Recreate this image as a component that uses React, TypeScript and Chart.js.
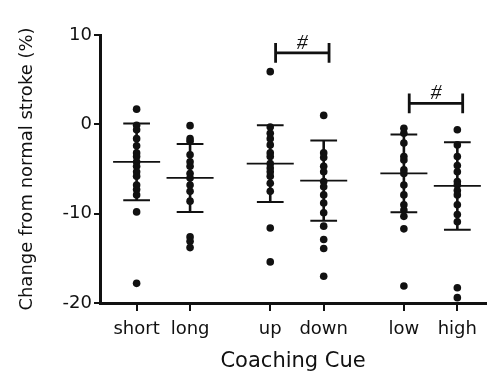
import React, { useEffect, useRef } from 'react';
import { Chart, registerables } from 'chart.js';

Chart.register(...registerables);

// ---- data ----
const CATEGORIES = ['short', 'long', 'up', 'down', 'low', 'high'];
const POSITIONS = [1, 2, 3.5, 4.5, 6, 7];

const SHORT = [1.7, -0.1, -0.6, -1.6, -2.4, -3.2, -3.6, -4.2, -4.7, -5.3, -5.8, -6.8, -7.3, -7.9, -9.8, -17.8];
const LONG = [-0.15, -1.6, -1.9, -3.4, -4.2, -4.7, -5.5, -6.0, -6.8, -7.5, -8.6, -12.6, -13.1, -13.8];
const UP = [5.9, -0.3, -1.0, -1.6, -2.3, -3.2, -3.6, -4.4, -4.9, -5.3, -5.8, -6.6, -7.5, -11.6, -15.4];
const DOWN = [1.0, -3.2, -3.7, -4.7, -5.3, -6.4, -7.0, -7.9, -8.8, -9.9, -11.4, -12.9, -13.9, -17.0];
const LOW = [-0.45, -1.0, -2.1, -3.6, -4.0, -5.1, -5.5, -6.8, -7.9, -9.0, -9.6, -10.3, -11.7, -18.1];
const HIGH = [-0.6, -2.3, -3.6, -4.6, -5.3, -6.4, -6.8, -7.4, -7.9, -9.0, -10.1, -10.9, -18.3, -19.4];
const SERIES = [SHORT, LONG, UP, DOWN, LOW, HIGH];

const MEANS = [-4.2, -6.0, -4.4, -6.3, -5.5, -6.9];
const SDS = [4.3, 3.8, 4.3, 4.5, 4.35, 4.9];

const Y_TICKS = [-20, -10, 0, 10];

const BRACKET_FROM = [2, 4]; // category index
const BRACKET_TO = [3, 5];
const BRACKET_Y = [8.0, 2.35];
const BRACKET_LABELS = ['#', '#'];

const TEXT = '#111';
const FONT = "'DejaVu Sans', 'Liberation Sans', Arial, sans-serif";

const errorBarPlugin = {
  id: 'errorBars',
  afterDatasetsDraw(chart: any) {
    const { ctx } = chart;
    const x = chart.scales.x;
    const y = chart.scales.y;
    ctx.save();
    ctx.strokeStyle = '#111';
    ctx.lineCap = 'butt';
    POSITIONS.forEach((p, i) => {
      const cx = x.getPixelForValue(p);
      const m = y.getPixelForValue(MEANS[i]);
      const top = y.getPixelForValue(MEANS[i] + SDS[i]);
      const bot = y.getPixelForValue(MEANS[i] - SDS[i]);
      const halfMean = x.getPixelForValue(p + 0.44) - cx;
      const halfCap = x.getPixelForValue(p + 0.25) - cx;
      ctx.lineWidth = 2.6;
      ctx.beginPath();
      ctx.moveTo(cx, top);
      ctx.lineTo(cx, bot);
      ctx.stroke();
      ctx.lineWidth = 2;
      ctx.beginPath();
      ctx.moveTo(cx - halfCap, top);
      ctx.lineTo(cx + halfCap, top);
      ctx.moveTo(cx - halfCap, bot);
      ctx.lineTo(cx + halfCap, bot);
      ctx.stroke();
      ctx.lineWidth = 1.8;
      ctx.beginPath();
      ctx.moveTo(cx - halfMean, m);
      ctx.lineTo(cx + halfMean, m);
      ctx.stroke();
    });
    // significance brackets
    BRACKET_FROM.forEach((fromIdx, i) => {
      const x1 = x.getPixelForValue(POSITIONS[fromIdx] + 0.1);
      const x2 = x.getPixelForValue(POSITIONS[BRACKET_TO[i]] + 0.1);
      const by = y.getPixelForValue(BRACKET_Y[i]);
      const e1 = y.getPixelForValue(BRACKET_Y[i] + 1.1);
      const e2 = y.getPixelForValue(BRACKET_Y[i] - 1.1);
      ctx.lineWidth = 2.8;
      ctx.beginPath();
      ctx.moveTo(x1, by);
      ctx.lineTo(x2, by);
      ctx.moveTo(x1, e1);
      ctx.lineTo(x1, e2);
      ctx.moveTo(x2, e1);
      ctx.lineTo(x2, e2);
      ctx.stroke();
      ctx.fillStyle = TEXT;
      ctx.font = "italic 22px 'Liberation Serif', serif";
      ctx.textAlign = 'center';
      ctx.textBaseline = 'alphabetic';
      ctx.fillText(BRACKET_LABELS[i], (x1 + x2) / 2, by - 4);
    });
    ctx.restore();
  },
};

export default function App() {
  const canvasRef = useRef<HTMLCanvasElement | null>(null);

  useEffect(() => {
    const canvas = canvasRef.current;
    if (!canvas) return;
    const datasets = SERIES.map((vals, i) => ({
      label: CATEGORIES[i],
      data: vals.map((v) => ({ x: POSITIONS[i], y: v })),
      backgroundColor: '#111',
      borderColor: '#111',
      borderWidth: 0,
      pointRadius: 3.8,
      pointHoverRadius: 3.8,
    }));
    const chart = new Chart(canvas, {
      type: 'scatter',
      data: { datasets },
      options: {
        animation: false,
        responsive: false,
        maintainAspectRatio: false,
        events: [],
        layout: { padding: { top: 35, left: 0, right: 0, bottom: 0 } },
        plugins: {
          legend: { display: false },
          tooltip: { enabled: false },
        },
        scales: {
          x: {
            type: 'linear',
            min: 0.315,
            max: 7.54,
            afterBuildTicks: (scale: any) => {
              scale.ticks = POSITIONS.map((value) => ({ value }));
            },
            afterFit: (scale: any) => {
              scale.height = 73;
            },
            ticks: {
              autoSkip: false,
              maxRotation: 0,
              minRotation: 0,
              padding: 8,
              color: TEXT,
              font: { family: FONT, size: 18 },
              callback: (value: any) => {
                const i = POSITIONS.indexOf(Number(value));
                return i >= 0 ? CATEGORIES[i] : '';
              },
            },
            grid: {
              drawOnChartArea: false,
              drawTicks: true,
              tickLength: 8,
              color: '#111',
              lineWidth: 2,
            },
            border: { display: true, color: '#111', width: 3 },
            title: {
              display: true,
              text: 'Coaching Cue',
              color: TEXT,
              font: { family: FONT, size: 21 },
              padding: { top: 0, bottom: 2 },
            },
          },
          y: {
            type: 'linear',
            min: -20,
            max: 10,
            afterBuildTicks: (scale: any) => {
              scale.ticks = Y_TICKS.map((value) => ({ value }));
            },
            afterFit: (scale: any) => {
              scale.width = 100;
            },
            ticks: {
              padding: 2,
              color: TEXT,
              font: { family: FONT, size: 18 },
            },
            grid: {
              drawOnChartArea: false,
              drawTicks: true,
              tickLength: 6,
              color: '#111',
              lineWidth: 2,
            },
            border: { display: true, color: '#111', width: 3 },
            title: {
              display: true,
              text: 'Change from normal stroke (%)',
              color: TEXT,
              font: { family: FONT, size: 18 },
              padding: { top: 17, bottom: 0 },
            },
          },
        },
      },
      plugins: [errorBarPlugin],
    });
    return () => chart.destroy();
  }, []);

  return (
    <div style={{ position: 'absolute', left: 0, top: 0, width: 490, height: 376, background: '#fff' }}>
      <canvas ref={canvasRef} width={490} height={376} />
    </div>
  );
}
